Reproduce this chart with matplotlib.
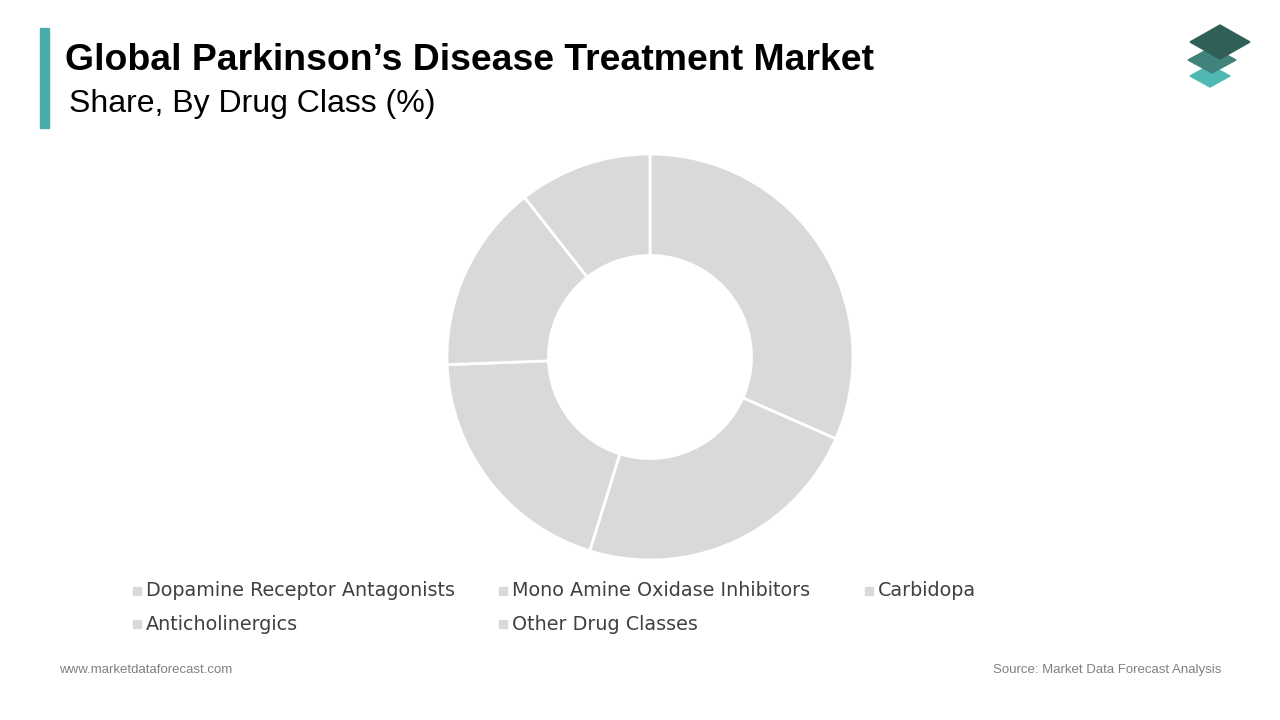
import matplotlib
matplotlib.use("Agg")
import matplotlib.pyplot as plt
from matplotlib.patches import Polygon, Rectangle

categories = ["Dopamine Receptor Antagonists", "Mono Amine Oxidase Inhibitors", "Carbidopa",
              "Anticholinergics", "Other Drug Classes"]
values = [31.6, 23.2, 19.6, 15.0, 10.6]
colors = ["#d9d9d9"] * 5

W, H = 1280, 720
fig = plt.figure(figsize=(12.8, 7.2), dpi=100)
fig.patch.set_facecolor("white")

def fx(x): return x / W
def fy(y): return 1 - y / H

fig.patches.append(Rectangle((fx(40), fy(128)), 9 / W, 100 / H, transform=fig.transFigure,
                             color="#4aaba9"))
fig.text(fx(65), fy(60), "Global Parkinson\u2019s Disease Treatment Market", fontsize=26.9,
         fontweight="bold", va="center", ha="left", family="Liberation Sans")
fig.text(fx(69), fy(104), "Share, By Drug Class (%)", fontsize=23, va="center", ha="left",
         family="Liberation Sans")

def diamond(cx, cy, w, h, col):
    pts = [(fx(cx - w), fy(cy)), (fx(cx), fy(cy - h)), (fx(cx + w), fy(cy)), (fx(cx), fy(cy + h))]
    fig.patches.append(Polygon(pts, closed=True, transform=fig.transFigure, color=col))
diamond(1210, 76, 20, 11, "#4fb8b3")
diamond(1212, 60, 24, 13, "#3f837c")
diamond(1220, 42, 30, 17, "#2f5f57")

cx, cy, r = 650, 357, 203
ax = fig.add_axes([fx(cx - r), fy(cy + r), 2 * r / W, 2 * r / H])
ax.pie(values, colors=colors, startangle=90, counterclock=False, radius=1,
       wedgeprops=dict(width=0.5, edgecolor="white", linewidth=2))
ax.set_xlim(-1, 1)
ax.set_ylim(-1, 1)
ax.set_aspect("equal")
ax.axis("off")

pos = [(137, 591), (503, 591), (869, 591), (137, 624), (503, 624)]
for (x, y), lab in zip(pos, categories):
    fig.patches.append(Rectangle((fx(x - 4), fy(y + 4)), 8 / W, 8 / H,
                                 transform=fig.transFigure, color="#d9d9d9"))
    fig.text(fx(x + 9), fy(y), lab, fontsize=13.8, va="center", ha="left",
             color="#404040", family="DejaVu Sans")

fig.text(fx(59), fy(670), "www.marketdataforecast.com", fontsize=9.5, color="#808080",
         va="center", family="Liberation Sans")
fig.text(fx(1221), fy(670), "Source: Market Data Forecast Analysis", fontsize=9.5,
         color="#808080", va="center", ha="right", family="Liberation Sans")

fig.savefig("out.png", dpi=100)
